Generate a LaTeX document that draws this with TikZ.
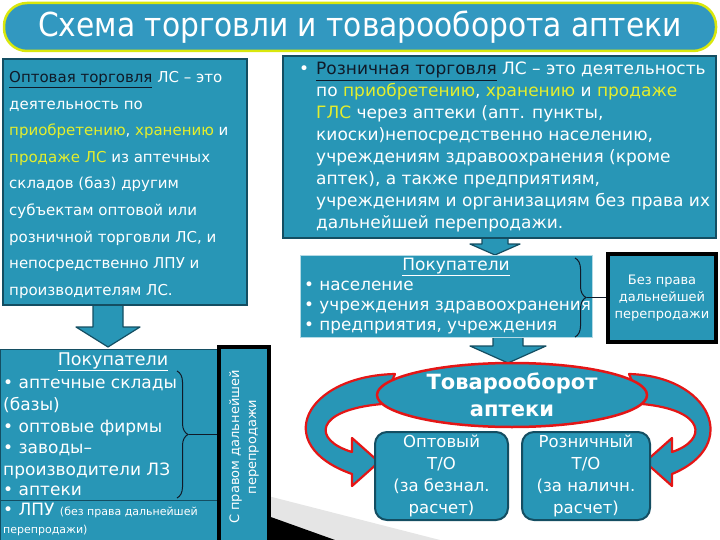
\documentclass[tikz,border=0pt]{standalone}
\usepackage{fontspec}
\setmainfont{DejaVu Sans}
\newfontfamily\titlefont{DejaVu Sans Condensed}
\usepackage{tikz}
\usetikzlibrary{calc,decorations.pathreplacing,shapes.geometric}
\definecolor{pteal}{RGB}{40,150,182}
\definecolor{ptitle}{RGB}{50,152,192}
\definecolor{pdark}{RGB}{20,78,98}
\definecolor{pyellow}{RGB}{228,238,45}
\definecolor{pred}{RGB}{228,22,22}
\definecolor{pnavy}{RGB}{16,26,40}
\newcommand\hl[1]{\textcolor{pyellow}{#1}}
\newcommand\termul[1]{\textcolor{pnavy}{\underline{#1}}}
\tikzset{
  panel/.style={draw=pdark,line width=2.5pt,fill=pteal,inner sep=0pt},
  framed/.style={draw=black,line width=3.5pt,fill=pteal,inner sep=0pt},
  txtline/.style={anchor=base west,inner sep=0pt,text=white},
  titlebox/.style={draw=yellow!85!green,line width=2.5pt,fill=ptitle,rounded corners=23pt,
    text=white,font=\titlefont\fontsize{33}{33}\selectfont},
  arrowfill/.style={fill=pteal,draw=pdark,line width=1.2pt,line join=round},
  ribbon/.style={fill=pteal,draw=pred,line width=2.2pt,line join=round},
  tobox/.style={draw=pdark,line width=2pt,fill=pteal,rounded corners=12pt,text=white,
    align=center,inner sep=0pt,font=\fontsize{16.5}{22}\selectfont},
  brc/.style={decorate,decoration={brace,amplitude=11pt},draw=pnavy,line width=1pt},
  pics/downblock/.style n args={4}{code={
    \draw[arrowfill] (-#1,0) -- (-#1,#3) -- (-#2,#3) -- (0,#4) -- (#2,#3) -- (#1,#3) -- (#1,0) -- cycle;
  }}
}
\begin{document}
\begin{tikzpicture}[x=1pt,y=-1pt,font=\fontsize{15}{17}\selectfont]
\useasboundingbox (0,0) rectangle (720,540);
% page shadow
\fill[black!10] (268,496) -- (440,540) -- (268,540) -- cycle;
\fill[black] (268,516) -- (335,540) -- (268,540) -- cycle;

\node[titlebox,minimum width=712,minimum height=48] (title) at (360,27) {Схема торговли и товарооборота аптеки};

% wholesale
\pic at (108,300) {downblock={15}{32}{27}{47}};
\node[panel,minimum width=244,minimum height=246] (whole) at (125,182) {};
\foreach \lab [count=\i] in {%
  {\termul{Оптовая торговля} ЛС – это},
  {деятельность по},
  {\hl{приобретению}, \hl{хранению} и},
  {\hl{продаже ЛС} из аптечных},
  {складов (баз) другим},
  {субъектам оптовой или},
  {розничной торговли ЛС, и},
  {непосредственно ЛПУ и},
  {производителям ЛС.}}{%
  \node[txtline] (w\i) at (9,{83+26.5*(\i-1)}) {\lab};
}

\node[draw=pdark,line width=1pt,fill=pteal,minimum width=218,minimum height=198] (lbuy) at (109,448) {};
\node[framed,minimum width=50,minimum height=200] (vbox) at (244,447) {};
\node[text=white,rotate=90,align=center,font=\fontsize{13}{17}\selectfont] (vtxt) at (vbox.center) {С правом дальнейшей\\перепродажи};
\node[anchor=base,inner sep=0pt,text=white,font=\fontsize{17.5}{20}\selectfont] (lhead) at (113,365) {\underline{Покупатели}};
\foreach \lab/\yy [count=\i] in {%
  {• аптечные склады}/388,
  {(базы)}/410,
  {• оптовые фирмы}/432,
  {• заводы–}/453,
  {производители ЛЗ}/475,
  {• аптеки}/495,
  {• ЛПУ {\fontsize{11}{11}\selectfont(без права дальнейшей}}/515}{%
  \node[txtline,font=\fontsize{17}{20}\selectfont] (lb\i) at (3,\yy) {\lab};
}
\node[txtline,font=\fontsize{11}{11}\selectfont] (lb8) at (3,533) {перепродажи)};
\coordinate (sepl) at (0,500);
\coordinate (sepr) at (vbox.west |- sepl);
\draw[pdark,line width=1pt] (sepl) -- (sepr);
\draw[brc] (177,371) -- (177,498);
\coordinate (btip1) at (189,434.5);
\draw[pnavy,line width=1pt] (btip1) -- (vbox.west |- btip1);

% retail
\pic at (495,236) {downblock={13}{25}{8}{19}};
\node[panel,minimum width=433,minimum height=182] (retail) at (499.5,147) {};
\node[txtline,font=\fontsize{17}{20}\selectfont] (rbul) at (299,75) {•};
\foreach \lab [count=\i] in {%
  {\termul{Розничная торговля} ЛС – это деятельность},
  {по \hl{приобретению}, \hl{хранению} и \hl{продаже}},
  {\hl{ГЛС} через аптеки (апт. пункты,},
  {киоски)непосредственно населению,},
  {учреждениям здравоохранения (кроме},
  {аптек), а также предприятиям,},
  {учреждениям и организациям без права их},
  {дальнейшей перепродажи.}}{%
  \node[txtline,font=\fontsize{17}{20}\selectfont] (r\i) at (316,{75+21.9*(\i-1)}) {\lab};
}

\pic at (508,333) {downblock={15}{38}{13}{30}};
\node[draw=white!65!pteal,line width=1pt,fill=pteal,minimum width=292,minimum height=82] (mbuy) at (446,296) {};
\node[anchor=base,inner sep=0pt,text=white,font=\fontsize{17}{20}\selectfont] (mhead) at (456,270) {\underline{Покупатели}};
\foreach \lab/\yy [count=\i] in {{• население}/290,{• учреждения здравоохранения}/310,{• предприятия, учреждения}/330}{%
  \node[txtline,font=\fontsize{16.8}{20}\selectfont] (m\i) at (304,\yy) {\lab};
}
\draw[brc] (575,258) -- (575,337);
\coordinate (btip2) at (587,297.5);
\node[framed,minimum width=108,minimum height=88,text=white,align=center,font=\fontsize{13}{17}\selectfont] (noresale) at (662,298) {Без права\\дальнейшей\\перепродажи};
\draw[pnavy,line width=1pt] (btip2) -- (noresale.west |- btip2);

% turnover
\draw[ribbon] (395,374) .. controls (305,376) and (270,445) .. (352,474) -- (352,486) -- (379,462) -- (352,438)
  -- (352,452) .. controls (312,440) and (314,410) .. (382,404) -- cycle;
\draw[ribbon] (629,374) .. controls (710,376) and (742,445) .. (672,474) -- (672,486) -- (645,462) -- (672,438)
  -- (672,452) .. controls (708,440) and (706,410) .. (642,404) -- cycle;
\node[ellipse,draw=pred,line width=2.5pt,fill=pteal,minimum width=270,minimum height=64,inner sep=0pt,
  text=white,align=center,font=\bfseries\fontsize{21}{27}\selectfont] (tovar) at (512,395) {Товарооборот\\аптеки};
\node[tobox,minimum width=133,minimum height=88] (opt) at (441.5,476) {Оптовый\\Т/О\\(за безнал.\\расчет)};
\node[tobox,minimum width=128,minimum height=88] (rozn) at (586,476) {Розничный\\Т/О\\(за наличн.\\расчет)};
\end{tikzpicture}
\end{document}
